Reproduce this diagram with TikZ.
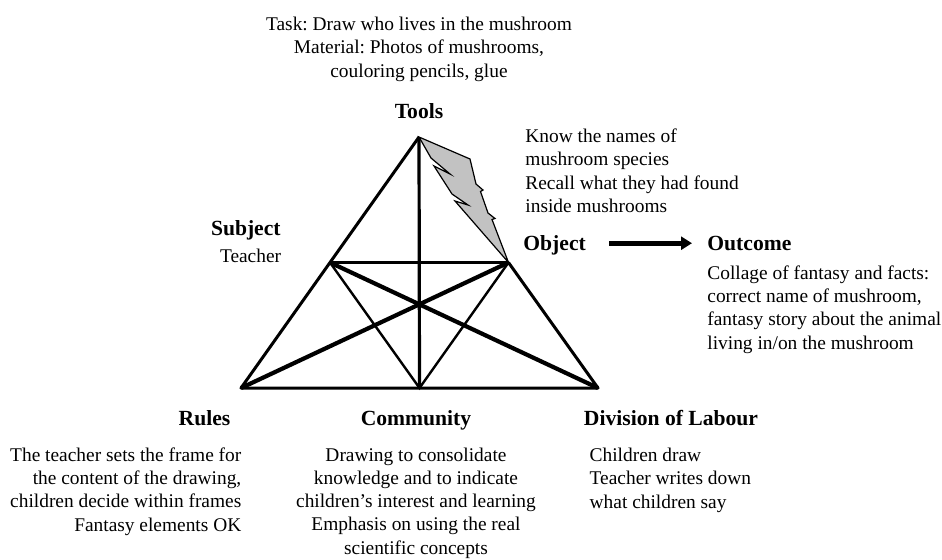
\documentclass[tikz,border=0pt]{standalone}
\usepackage{fontspec}
\setmainfont{Liberation Serif}
\usetikzlibrary{calc,arrows.meta}
\frenchspacing
\begin{document}
\begin{tikzpicture}[x=0.5pt,y=-0.5pt,
  txt/.style={inner sep=0,font=\fontsize{9.7}{11.6}\selectfont},
  head/.style={inner sep=0,font=\fontsize{10.8}{13}\selectfont\bfseries},
  bigarrow/.style={line width=2.5pt,-{Triangle[length=5.5pt,width=6.5pt]}}]
\useasboundingbox (0,0) rectangle (942,559);
% corners and side midpoints of the triangle
\coordinate (T) at (419,137); \coordinate (R) at (241,388); \coordinate (D) at (598,388);
\coordinate (C) at ($(R)!0.5!(D)$); \coordinate (S) at ($(T)!0.5!(R)$); \coordinate (O) at ($(T)!0.5!(D)$);
\draw[line width=1.5pt,line join=round] (O)--(D)--(R)--(T);
\draw[line width=1.6pt] (T)--(C); \draw[line width=1.4pt] (S)--(O);
\draw[line width=2.1pt] (S)--(D); \draw[line width=2.1pt] (O)--(R);
\draw[line width=1.2pt] (S)--(C)--(O);
% lightning between tools and object
\filldraw[fill=gray!48,line width=0.6pt] (T)--(470,159)--(476,184)--(483,190)--(480.5,191.5)--(488,213)--(495,218.5)--(492,219.5)--(O)
  --(455,201)--(468,205)--(452,194)--(434,166)--(450,174)--(431,158)--cycle;
% labels (base of a multi-line node = last line)
\node[txt,align=center,anchor=base] (task) at (419,77.1) {Task: Draw who lives in the mushroom\\Material: Photos of mushrooms,\\couloring pencils, glue};
\node[head,anchor=base] (tools) at (419,118) {Tools};
\node[txt,align=left,anchor=base west] (know) at (525,212.3) {Know the names of\\mushroom species\\Recall what they had found\\inside mushrooms};
\node[head,anchor=base east] (subject) at (281,235) {Subject};
\node[txt,anchor=base east] (teacher) at (281.5,262.7) {Teacher};
\node[head,anchor=base west] (object) at (523,250) {Object};
\node[head,anchor=base west] (outcome) at (707,250) {Outcome};
\node[txt,align=left,anchor=base west] (collage) at (707,349) {Collage of fantasy and facts:\\correct name of mushroom,\\fantasy story about the animal\\living in/on the mushroom};
\node[head,anchor=base] (rules) at (204.5,425) {Rules};
\node[txt,align=right,anchor=base east] (rulestxt) at (241.7,531) {The teacher sets the frame for\\the content of the drawing,\\children decide within frames\\Fantasy elements OK};
\node[head,anchor=base] (community) at (416,425) {Community};
\node[txt,align=center,anchor=base] (commtxt) at (416,554) {Drawing to consolidate\\knowledge and to indicate\\children's interest and learning\\Emphasis on using the real\\scientific concepts};
\node[head,anchor=base] (division) at (671,425) {Division of Labour};
\node[txt,align=left,anchor=base west] (divtxt) at (589.3,508.1) {Children draw\\Teacher writes down\\what children say};
\draw[bigarrow,shorten <=11.5pt,shorten >=7.5pt] ([yshift=0.8pt]object.east) -- ([yshift=0.8pt]object.east -| outcome.west);
\end{tikzpicture}
\end{document}
